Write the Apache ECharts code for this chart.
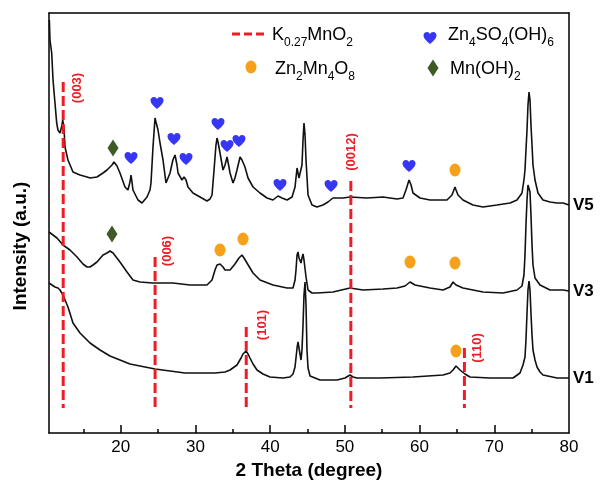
<!DOCTYPE html>
<html>
<head>
<meta charset="utf-8">
<script src="https://cdn.jsdelivr.net/npm/echarts@6/dist/echarts.min.js"></script>
<style>
  html, body { margin: 0; padding: 0; background: #fff; }
  #chart { width: 600px; height: 485px; }
</style>
</head>
<body>
<div id="chart"></div>
<script>
// XRD patterns: [2θ (degree), intensity (a.u., stacked)]
const v5 = [
  [10.45, 413], [10.53, 393], [10.76, 380], [10.94, 353], [11.20, 330], [11.43, 310], [11.60, 303],
  [11.87, 300], [12.14, 308], [12.23, 313], [12.41, 305], [12.54, 286], [12.94, 273], [13.61, 261],
  [14.55, 258], [15.49, 256], [15.89, 255], [16.82, 256], [17.63, 260], [18.16, 263], [18.83, 268],
  [19.10, 271], [19.50, 267], [19.90, 260], [20.57, 246], [20.97, 243], [21.24, 251], [21.38, 258],
  [21.51, 251], [21.64, 243], [22.31, 233], [22.85, 230], [23.52, 236], [23.92, 243], [24.05, 250],
  [24.32, 286], [24.59, 315], [24.72, 311], [24.99, 303], [25.26, 290], [25.66, 273], [26.06, 250],
  [26.60, 260], [26.98, 273], [27.27, 278], [27.53, 268], [27.67, 260], [28.20, 253], [28.47, 256],
  [28.74, 253], [29.00, 246], [29.67, 240], [30.61, 236], [31.55, 232], [31.95, 234], [32.22, 238],
  [32.49, 263], [32.75, 288], [32.89, 295], [33.02, 291], [33.29, 280], [33.69, 263], [33.96, 268],
  [34.23, 276], [34.49, 266], [34.63, 260], [35.03, 250], [35.29, 255], [35.56, 263], [35.97, 276],
  [36.23, 273], [36.63, 266], [37.04, 255], [37.71, 246], [38.64, 240], [39.58, 235], [40.38, 233],
  [41.05, 237], [41.59, 235], [42.26, 233], [42.93, 236], [43.33, 246], [43.60, 265], [43.86, 255],
  [44.00, 253], [44.26, 268], [44.40, 293], [44.53, 310], [44.67, 298], [44.80, 273], [45.07, 238],
  [45.60, 228], [46.27, 226], [47.07, 228], [47.74, 231], [48.41, 235], [49.75, 235], [50.69, 236],
  [52.96, 235], [55.11, 236], [56.98, 234], [57.78, 235], [58.18, 243], [58.59, 253], [58.86, 248],
  [59.12, 240], [60.06, 235], [61.40, 233], [63.67, 233], [64.34, 238], [64.74, 246], [64.88, 243],
  [65.14, 238], [65.81, 233], [67.15, 228], [68.49, 226], [70.36, 228], [72.11, 230], [73.04, 233],
  [73.71, 240], [73.97, 253], [74.11, 263], [74.24, 283], [74.38, 303], [74.51, 328], [74.65, 341],
  [74.78, 333], [74.91, 308], [75.05, 288], [75.18, 268], [75.45, 253], [75.85, 240], [76.52, 233],
  [77.46, 231], [78.40, 230], [79.20, 230], [80.00, 228]
];
const v3 = [
  [10.40, 201], [10.53, 200], [11.47, 195], [12.27, 188], [13.21, 183], [14.15, 176], [14.95, 169],
  [15.49, 166], [15.89, 166], [16.29, 168], [16.82, 171], [17.63, 178], [18.16, 180], [18.56, 182],
  [18.97, 180], [19.23, 178], [19.90, 171], [20.84, 161], [21.64, 153], [22.58, 151], [24.32, 150],
  [26.98, 150], [29.27, 148], [31.55, 148], [32.22, 153], [32.62, 163], [32.89, 168], [33.29, 169],
  [33.69, 166], [33.96, 163], [34.63, 163], [35.29, 169], [35.83, 175], [36.23, 178], [36.50, 175],
  [36.90, 170], [37.71, 160], [38.64, 153], [40.38, 148], [42.26, 145], [43.06, 145], [43.33, 153],
  [43.46, 163], [43.60, 178], [43.73, 181], [43.86, 175], [44.13, 170], [44.26, 175], [44.40, 179],
  [44.53, 173], [44.80, 156], [45.07, 143], [45.60, 140], [46.27, 140], [48.41, 141], [50.69, 145],
  [52.43, 143], [55.11, 144], [56.98, 145], [58.05, 147], [58.72, 151], [59.39, 148], [61.40, 145],
  [63.14, 143], [64.07, 146], [64.48, 151], [64.88, 148], [65.81, 145], [68.49, 141], [71.17, 140],
  [73.04, 143], [73.71, 147], [73.97, 158], [74.11, 178], [74.24, 208], [74.38, 233], [74.51, 248],
  [74.65, 250], [74.78, 241], [74.91, 218], [75.05, 188], [75.18, 168], [75.45, 155], [76.12, 148],
  [77.46, 143], [79.20, 143], [80.00, 142]
];
const v1 = [
  [10.40, 150], [10.53, 148], [11.20, 146], [11.60, 145], [11.87, 143], [12.27, 138], [12.94, 126],
  [13.61, 110], [14.55, 100], [15.89, 90], [17.23, 83], [18.56, 77], [19.90, 73], [21.24, 69],
  [22.58, 67], [24.59, 64], [26.60, 62], [28.60, 60], [30.61, 60], [32.62, 60], [33.96, 61],
  [34.63, 63], [35.56, 68], [36.10, 75], [36.37, 79], [36.77, 82], [37.04, 79], [37.30, 75],
  [37.71, 69], [38.24, 63], [39.04, 59], [39.98, 56], [41.72, 55], [42.66, 56], [43.06, 59],
  [43.33, 66], [43.60, 85], [43.73, 91], [43.86, 85], [44.13, 73], [44.26, 83], [44.40, 108],
  [44.53, 138], [44.67, 151], [44.80, 128], [44.93, 83], [45.07, 65], [45.34, 57], [46.67, 53],
  [48.95, 53], [50.02, 55], [50.69, 58], [51.09, 56], [51.63, 55], [54.70, 55], [59.12, 56],
  [63.14, 58], [64.07, 60], [64.48, 63], [64.88, 67], [65.14, 65], [65.41, 63], [66.08, 59],
  [66.75, 56], [69.43, 55], [72.51, 55], [73.44, 60], [73.84, 68], [74.11, 76], [74.24, 93],
  [74.38, 120], [74.51, 143], [74.65, 152], [74.78, 143], [74.91, 120], [75.05, 98], [75.18, 83],
  [75.45, 73], [75.72, 66], [76.12, 61], [76.52, 58], [78.40, 55], [80.00, 55]
];

// Phase markers placed above the indexed reflections
const zhsPeaks = [
  [21.38, 275], [24.86, 330], [27.13, 294], [28.74, 274], [33.02, 309],
  [34.23, 287], [35.83, 292], [41.32, 248], [48.15, 247], [58.59, 267]
];
const zmoPeaks = [
  [64.74, 263], [33.29, 183], [36.37, 194], [58.72, 171], [64.74, 170], [64.88, 82]
];
const mnohPeaks = [[18.97, 285], [18.83, 199]];

// K0.27MnO2 reference reflections: position, top of the bar, bottom of the bar, (hkl)
const kmoPos = [12.3, 24.6, 36.8, 50.8, 66.0];
const kmoTop = [351, 176, 106, 252, 85];
const kmoBase = 25;
const kmoHkl = ['(003)', '(006)', '(101)', '(0012)', '(110)'];

// Axis ticks
const xLabels = [20, 30, 40, 50, 60, 70, 80];
const xMajorTicks = [20, 30, 40, 50, 60, 70];
const xMinorTicks = [15, 25, 35, 45, 55, 65, 75];

const FONT = 'Liberation Sans';
const RED = '#ee1c24';
const BLUE = '#3636f4';
const ORANGE = '#f7a11a';
const GREEN = '#3e5a25';
const HEART = 'path://M50,92 C22,68 2,50 2,27 C2,12 13,2 27,2 C38,2 46,9 50,18 C54,9 62,2 73,2 C87,2 98,12 98,27 C98,50 78,68 50,92 Z';

// heart outline as a reusable graphic shape (legend icon)
const Heart = echarts.graphic.extendShape({
  shape: { cx: 0, cy: 0, w: 13, h: 12 },
  buildPath(ctx, s) {
    const sx = s.w / 96, sy = s.h / 90;
    const X = (v) => s.cx + (v - 50) * sx;
    const Y = (v) => s.cy + (v - 47) * sy;
    ctx.moveTo(X(50), Y(92));
    ctx.bezierCurveTo(X(22), Y(68), X(2), Y(50), X(2), Y(27));
    ctx.bezierCurveTo(X(2), Y(12), X(13), Y(2), X(27), Y(2));
    ctx.bezierCurveTo(X(38), Y(2), X(46), Y(9), X(50), Y(18));
    ctx.bezierCurveTo(X(54), Y(9), X(62), Y(2), X(73), Y(2));
    ctx.bezierCurveTo(X(87), Y(2), X(98), Y(12), X(98), Y(27));
    ctx.bezierCurveTo(X(98), Y(50), X(78), Y(68), X(50), Y(92));
    ctx.closePath();
  }
});
echarts.graphic.registerShape('legendHeart', Heart);

// pixel offsets of the (hkl) labels from the top of each reference bar
const hklOffset = [[14, 6], [12.5, -6], [16, -2], [1, -29], [13.5, 0]];

const chart = echarts.init(document.getElementById('chart'), null, { renderer: 'canvas' });

const XMIN = 10.4, XMAX = 80;

function patternSeries(name, data) {
  return {
    type: 'line', name, data,
    showSymbol: false, symbol: 'none',
    lineStyle: { color: '#111', width: 1.6 },
    z: 3,
    endLabel: {
      show: true, formatter: '{a}', color: '#000',
      fontFamily: FONT, fontWeight: 'bold', fontSize: 17, distance: 4
    }
  };
}

const legRich = {
  m: { fontFamily: FONT, fontSize: 18, fill: '#000', verticalAlign: 'bottom', padding: [0, 0, 5, 0] },
  s: { fontFamily: FONT, fontSize: 12, fill: '#000', verticalAlign: 'bottom' }
};
function legText(x, y, str) {
  return { type: 'text', x, y, style: { text: str, rich: legRich, verticalAlign: 'top', align: 'left', fill: '#000' }, z: 10 };
}

const option = {
  animation: false,
  backgroundColor: '#fff',
  grid: { left: 49, right: 31, top: 13, bottom: 52, containLabel: false, outerBoundsMode: 'none' },
  xAxis: [
    {
      type: 'value', min: XMIN, max: XMAX, position: 'bottom',
      name: '2 Theta (degree)', nameLocation: 'middle', nameGap: 24,
      nameTextStyle: { fontFamily: FONT, fontWeight: 'bold', fontSize: 19, color: '#000' },
      axisLine: { show: true, onZero: false, lineStyle: { color: '#000', width: 1.5 } },
      axisTick: { show: true, inside: true, length: 8, customValues: xMajorTicks, lineStyle: { color: '#000', width: 1.5 } },
      axisLabel: { show: true, customValues: xLabels, fontFamily: FONT, fontSize: 17, color: '#000', margin: 6 },
      splitLine: { show: false }
    },
    {
      type: 'value', min: XMIN, max: XMAX, position: 'bottom',
      axisLine: { show: false },
      axisTick: { show: true, inside: true, length: 4, customValues: xMinorTicks, lineStyle: { color: '#000', width: 1.5 } },
      axisLabel: { show: false }, splitLine: { show: false }
    },
    {
      type: 'value', min: XMIN, max: XMAX, position: 'top',
      axisLine: { show: true, onZero: false, lineStyle: { color: '#000', width: 1.5 } },
      axisTick: { show: false }, axisLabel: { show: false }, splitLine: { show: false }
    }
  ],
  yAxis: [
    {
      type: 'value', min: 0, max: 420, position: 'left',
      name: 'Intensity (a.u.)', nameLocation: 'middle', nameGap: 19,
      nameTextStyle: { fontFamily: FONT, fontWeight: 'bold', fontSize: 19, color: '#000', padding: [0, 46, 0, 0] },
      axisLine: { show: true, onZero: false, lineStyle: { color: '#000', width: 1.5 } },
      axisTick: { show: false }, axisLabel: { show: false }, splitLine: { show: false }
    },
    {
      type: 'value', min: 0, max: 420, position: 'right',
      axisLine: { show: true, onZero: false, lineStyle: { color: '#000', width: 1.5 } },
      axisTick: { show: false }, axisLabel: { show: false }, splitLine: { show: false }
    }
  ],
  series: [
    patternSeries('V1', v1),
    patternSeries('V3', v3),
    patternSeries('V5', v5),
    {
      type: 'custom', name: 'K0.27MnO2',
      data: kmoPos.map((x, i) => [x, kmoTop[i], kmoBase]),
      z: 4, clip: false,
      renderItem(params, api) {
        const i = params.dataIndex;
        const top = api.coord([api.value(0), api.value(1)]);
        const bot = api.coord([api.value(0), api.value(2)]);
        const off = hklOffset[i];
        return {
          type: 'group',
          children: [
            {
              type: 'line',
              shape: { x1: top[0], y1: top[1], x2: bot[0], y2: bot[1] },
              style: { stroke: RED, lineWidth: 3, lineDash: [10, 4] }
            },
            {
              type: 'text', x: top[0] + off[0], y: top[1] + off[1], rotation: Math.PI / 2,
              style: {
                text: kmoHkl[i], fill: RED, align: 'center', verticalAlign: 'middle',
                font: 'bold 13px "' + FONT + '"'
              }
            }
          ]
        };
      }
    },
    {
      type: 'scatter', name: 'Zn4SO4(OH)6', data: zhsPeaks, symbol: HEART, symbolSize: [13, 12],
      itemStyle: { color: BLUE, opacity: 1 }, z: 5
    },
    {
      type: 'scatter', name: 'Zn2Mn4O8', data: zmoPeaks, symbol: 'circle', symbolSize: [11, 13],
      itemStyle: { color: ORANGE, opacity: 1 }, z: 5
    },
    {
      type: 'scatter', name: 'Mn(OH)2', data: mnohPeaks, symbol: 'diamond', symbolSize: [11, 17],
      itemStyle: { color: GREEN, opacity: 1 }, z: 5
    }
  ],
  graphic: [
    { type: 'line', shape: { x1: 232, y1: 34, x2: 268, y2: 34 }, style: { stroke: RED, lineWidth: 3, lineDash: [8, 4] }, z: 10 },
    legText(272, 26, '{m|K}{s|0.27}{m|MnO}{s|2}'),
    { type: 'legendHeart', shape: { cx: 430, cy: 38, w: 13, h: 12 }, style: { fill: BLUE }, z: 10 },
    legText(448, 26, '{m|Zn}{s|4}{m|SO}{s|4}{m|(OH)}{s|6}'),
    { type: 'circle', x: 251, y: 67, scaleY: 13 / 11, shape: { cx: 0, cy: 0, r: 5.5 }, style: { fill: ORANGE }, z: 10 },
    legText(275, 60, '{m|Zn}{s|2}{m|Mn}{s|4}{m|O}{s|8}'),
    { type: 'polygon', shape: { points: [[433, 59.5], [438.5, 68], [433, 76.5], [427.5, 68]] }, style: { fill: GREEN }, z: 10 },
    legText(450, 60, '{m|Mn(OH)}{s|2}')
  ]
};

chart.setOption(option);
</script>
</body>
</html>
